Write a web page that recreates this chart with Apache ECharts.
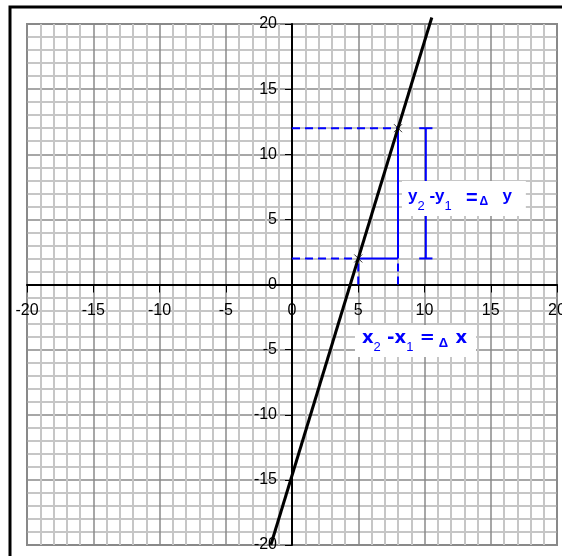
<!DOCTYPE html>
<html>
<head>
<meta charset="utf-8">
<script src="https://cdn.jsdelivr.net/npm/echarts@6/dist/echarts.min.js"></script>
<style>
html,body{margin:0;padding:0;background:#fff;}
#chart{width:562px;height:556px;}
</style>
</head>
<body>
<div id="chart"></div>
<script>
// Axis ranges and tick step
const axisMin = -20;
const axisMax = 20;
const tickStep = 5;

// Main black line (endpoints)
const lineX = [-1.6, 10.55];
const lineY = [-20, 20.5];

// The two marked points (x1,y1) and (x2,y2)
const pointX = [5, 8];
const pointY = [2, 12];

// Δy bracket position and cap extent
const bracketX = 10.1;
const capX = [9.6, 10.6];

const BLUE = '#0000ff';
const FONT = 'Liberation Sans, Arial, sans-serif';

const chart = echarts.init(document.getElementById('chart'), null, {renderer: 'canvas'});

function seg(xs, ys, dashed, width) {
  return {
    type: 'line',
    data: xs.map((x, i) => [x, ys[i]]),
    symbol: 'none',
    silent: true,
    clip: false,
    z: 3,
    lineStyle: {color: BLUE, width: width || 2, type: dashed ? [8, 5] : 'solid'},
    animation: false
  };
}

const series = [
  seg([0, pointX[1]], [pointY[1], pointY[1]], true),
  seg([0, pointX[0]], [pointY[0], pointY[0]], true),
  seg([pointX[0], pointX[1]], [pointY[0], pointY[0]], false),
  seg([pointX[1], pointX[1]], [pointY[0], pointY[1]], false),
  seg([pointX[1], pointX[1]], [0, pointY[0]], true),
  seg([pointX[0], pointX[0]], [0, pointY[0]], true),
  seg([bracketX, bracketX], [pointY[0], pointY[1]], false),
  seg(capX, [pointY[1], pointY[1]], false),
  seg(capX, [pointY[0], pointY[0]], false),
  {
    type: 'line',
    data: lineX.map((x, i) => [x, lineY[i]]),
    symbol: 'none',
    clip: false,
    z: 5,
    lineStyle: {color: '#000', width: 3},
    animation: false
  },
  {
    type: 'scatter',
    data: pointX.map((x, i) => [x, pointY[i]]),
    symbol: 'path://M0,0L10,10M10,0L0,10',
    symbolSize: 8,
    z: 6,
    itemStyle: {color: 'transparent', borderColor: '#000', borderWidth: 1},
    animation: false
  }
];

function axisCommon() {
  return {
    type: 'value',
    min: axisMin,
    max: axisMax,
    interval: tickStep,
    offset: 0,
    axisLine: {show: true, onZero: false, lineStyle: {color: '#000', width: 2}},
    axisTick: {show: true, length: 8, lineStyle: {color: '#000', width: 1}},
    axisLabel: {color: '#000', fontSize: 16, fontFamily: FONT, showMinLabel: true, showMaxLabel: true},
    splitLine: {show: true, lineStyle: {color: '#8a8a8a', width: 1.5}},
    minorTick: {show: false, splitNumber: 5},
    minorSplitLine: {show: true, lineStyle: {color: '#c6c6c6', width: 2}}
  };
}

const xAxis = axisCommon();
xAxis.axisLabel.margin = 18;
const yAxis = axisCommon();
yAxis.axisLabel.margin = 15;
yAxis.axisTick.length = 7;

const option = {
  backgroundColor: '#fff',
  animation: false,
  grid: {left: 27, top: 24, right: 5, bottom: 11, outerBoundsMode: 'none', containLabel: false,
         show: true, borderColor: '#888', borderWidth: 2, backgroundColor: '#fff'},
  xAxis: xAxis,
  yAxis: yAxis,
  series: series,
  graphic: [
    {
      type: 'rect',
      shape: {x: 10, y: 7, width: 700, height: 700},
      style: {fill: null, stroke: '#000', lineWidth: 3},
      z: 100, silent: true
    },
    {
      type: 'text',
      x: 402, y: 181,
      z: 50,
      style: {
        text: '{m|y}{s|2}{m| -}{m|y}{s|1}{m|   }{e|=}{d|Δ}{m|   y}',
        backgroundColor: '#fff',
        padding: [7, 14, 0, 6],
        rich: {
          m: {fill: BLUE, fontSize: 17, fontWeight: 'bold', fontFamily: FONT, lineHeight: 20, verticalAlign: 'top'},
          e: {fill: BLUE, fontSize: 20, fontWeight: 'bold', fontFamily: FONT, lineHeight: 28, verticalAlign: 'top'},
          s: {fill: BLUE, fontSize: 13, fontFamily: FONT, lineHeight: 2, verticalAlign: 'bottom', padding: [0, 0, 3, 0]},
          d: {fill: BLUE, fontSize: 12, fontWeight: 'bold', fontFamily: FONT, lineHeight: 12, padding: [0, 0, 0, 2]}
        }
      }
    },
    {
      type: 'text',
      x: 355, y: 325,
      z: 50,
      style: {
        text: '{m|x}{s|2}{m| -}{m|x}{s|1}{m| }{e|=}{d|Δ}{m| x}',
        backgroundColor: '#fff',
        padding: [4, 9, 0, 7],
        rich: {
          m: {fill: BLUE, fontSize: 18, fontWeight: 'bold', fontFamily: 'DejaVu Sans, sans-serif', lineHeight: 20, verticalAlign: 'top'},
          e: {fill: BLUE, fontSize: 18, fontWeight: 'bold', fontFamily: 'DejaVu Sans, sans-serif', lineHeight: 28, verticalAlign: 'top'},
          s: {fill: BLUE, fontSize: 13, fontFamily: FONT, lineHeight: 2, verticalAlign: 'bottom', padding: [0, 0, 3, 0]},
          d: {fill: BLUE, fontSize: 13, fontWeight: 'bold', fontFamily: FONT, lineHeight: 14, padding: [0, 1, 0, 4]}
        }
      }
    }
  ]
};

chart.setOption(option);

// Move both axes (line, ticks, labels) to the zero crossing of the other axis
for (let k = 0; k < 2; k++) {
  const zero = chart.convertToPixel({gridIndex: 0}, [0, 0]);
  const corner = chart.convertToPixel({gridIndex: 0}, [axisMin, axisMin]);
  chart.setOption({
    xAxis: {offset: -(corner[1] - zero[1])},
    yAxis: {offset: -(zero[0] - corner[0])}
  });
}
</script>
</body>
</html>
